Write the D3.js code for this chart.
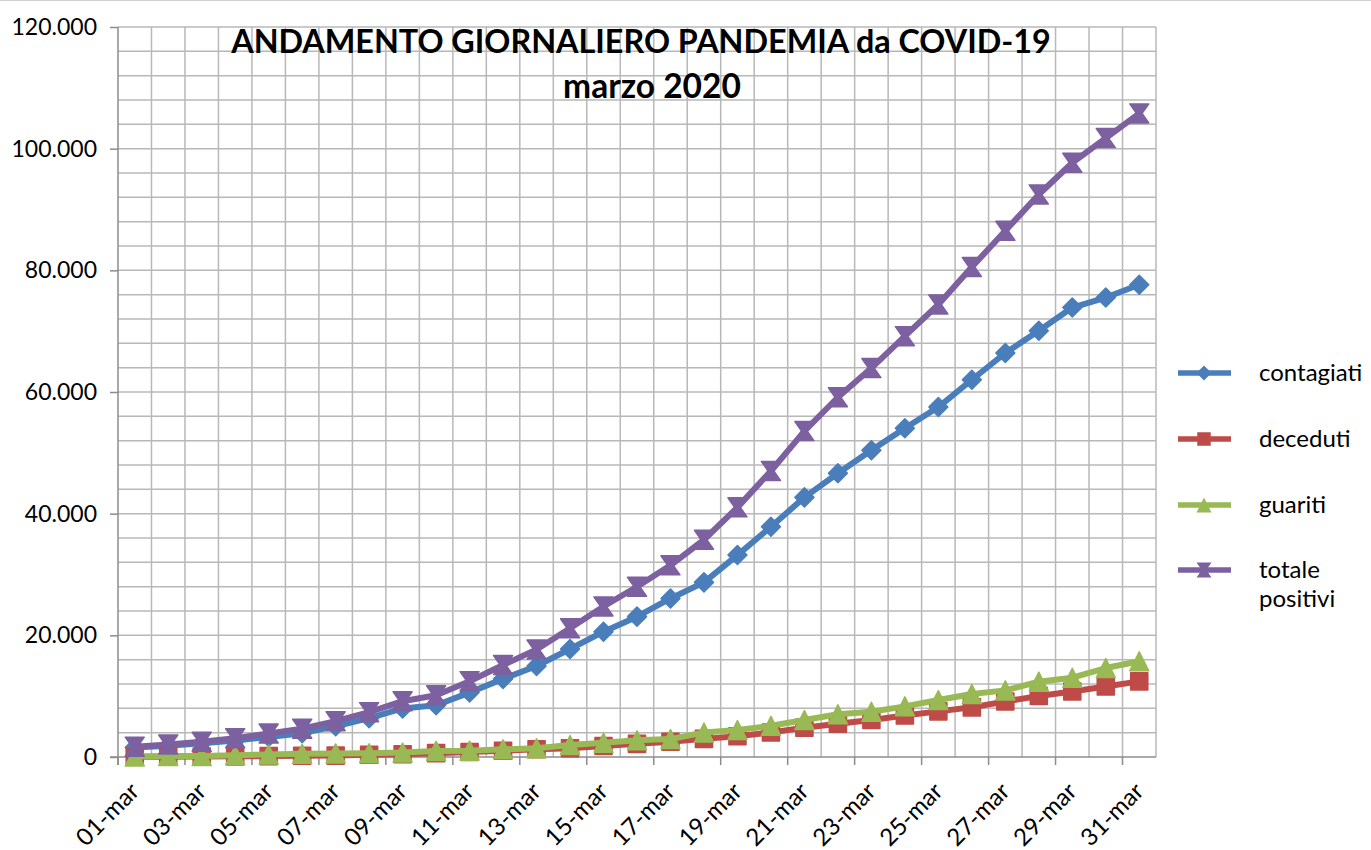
<!DOCTYPE html>
<html>
<head>
<meta charset="utf-8">
<script src="https://cdn.jsdelivr.net/npm/d3@7"></script>
<style>
  body { margin: 0; background: #fff; }
  svg { display: block; font-family: Lato, "Open Sans", sans-serif; }
</style>
</head>
<body>
<svg width="1371" height="850"></svg>
<script>
// giorni di marzo 2020
var giorni = d3.range(1, 32).map(function(d){ return (d < 10 ? '0' : '') + d + '-mar'; });

var contagiati = [1577,1835,2263,2706,3296,3916,5061,6387,7985,8514,10590,12839,14955,17750,20603,
  23073,26062,28710,33190,37860,42681,46638,50418,54030,57521,62013,66414,70065,73880,75528,77635];
var deceduti = [34,52,79,107,148,197,233,366,463,631,827,1016,1266,1441,1809,2158,2503,2978,3405,
  4032,4825,5476,6077,6820,7503,8165,9134,10023,10779,11591,12428];
var guariti = [83,149,160,276,414,523,589,622,724,1004,1045,1258,1439,1966,2335,2749,2941,4025,4440,
  5129,6072,7024,7432,8326,9362,10361,10950,12384,13030,14620,15729];
var totalePositivi = [1694,2036,2502,3089,3858,4636,5883,7375,9172,10149,12462,15113,17660,21157,24747,
  27980,31506,35713,41035,47021,53578,59138,63927,69176,74386,80539,86498,92472,97689,101739,105792];

var yTicks = [0, 20000, 40000, 60000, 80000, 100000, 120000];
var etichetteX = giorni.filter(function(d, i){ return i % 2 === 0; });

var serie = [
  { nome: 'contagiati', valori: contagiati, colore: '#4a7ebb', marker: 'diamond' },
  { nome: 'deceduti', valori: deceduti, colore: '#be4b48', marker: 'square' },
  { nome: 'guariti', valori: guariti, colore: '#98b954', marker: 'triangle' },
  { nome: 'totale positivi', valori: totalePositivi, colore: '#7d60a0', marker: 'hourglass' }
];

var pLeft = 118, pRight = 1156, pTop = 27, pBottom = 757;

var x = d3.scaleBand().domain(giorni).range([pLeft, pRight]).padding(0);
var y = d3.scaleLinear().domain([0, 120000]).range([pBottom, pTop]);
var bw = x.bandwidth();
var fmt = d3.formatLocale({ decimal: ',', thousands: '.', grouping: [3], currency: ['', '€'] }).format(',');

var svg = d3.select('svg');

// linea sottile in alto
svg.append('line').attr('x1', 0).attr('x2', 1371).attr('y1', 0.5).attr('y2', 0.5)
  .attr('stroke', '#d0d0d0').attr('stroke-width', 1);

// griglia orizzontale
svg.append('g').selectAll('line')
  .data(d3.range(4000, 120001, 4000))
  .enter().append('line')
  .attr('x1', pLeft).attr('x2', pRight)
  .attr('y1', function(d){ return y(d); }).attr('y2', function(d){ return y(d); })
  .attr('stroke', '#b8b8b8').attr('stroke-width', 1.5);

// griglia verticale (confini delle categorie)
var confini = d3.range(0, giorni.length + 1).map(function(i){ return pLeft + i * bw; });
svg.append('g').selectAll('line')
  .data(confini.slice(1))
  .enter().append('line')
  .attr('x1', function(d){ return d; }).attr('x2', function(d){ return d; })
  .attr('y1', pTop).attr('y2', pBottom)
  .attr('stroke', '#b8b8b8').attr('stroke-width', 1.5);

// asse y
var yAxis = d3.axisLeft(y).tickValues(yTicks).tickFormat(fmt).tickSize(8).tickPadding(13);
var gy = svg.append('g').attr('transform', 'translate(' + pLeft + ',0)').call(yAxis);
gy.select('.domain').attr('stroke', '#8c8c8c').attr('stroke-width', 1.5).attr('d', 'M0,' + pTop + 'V' + (pBottom + 8));
gy.selectAll('.tick line').attr('stroke', '#8c8c8c').attr('stroke-width', 1.5);
gy.selectAll('.tick text').attr('font-size', 23).attr('fill', '#000').attr('font-family', 'Lato');

// asse x
svg.append('line').attr('x1', pLeft - 8).attr('x2', pRight).attr('y1', pBottom).attr('y2', pBottom)
  .attr('stroke', '#8c8c8c').attr('stroke-width', 1.5);
svg.append('g').selectAll('line')
  .data(confini.filter(function(d, i){ return i % 2 === 0; }))
  .enter().append('line')
  .attr('x1', function(d){ return d; }).attr('x2', function(d){ return d; })
  .attr('y1', pBottom).attr('y2', pBottom + 8)
  .attr('stroke', '#8c8c8c').attr('stroke-width', 1.5);

svg.append('g').selectAll('text')
  .data(etichetteX)
  .enter().append('text')
  .attr('transform', function(d){ return 'translate(' + (x(d) + bw / 2 - 6) + ',' + (pBottom + 24) + ') rotate(-45)'; })
  .attr('text-anchor', 'end')
  .attr('dy', '0.7em')
  .attr('font-size', 24)
  .text(function(d){ return d; });

// simboli
function simbolo(tipo, s) {
  var h = s / 2;
  if (tipo === 'diamond') return 'M0,' + (-h) + 'L' + h + ',0L0,' + h + 'L' + (-h) + ',0Z';
  if (tipo === 'square') return 'M' + (-h * 0.9) + ',' + (-h * 0.9) + 'h' + (s * 0.9) + 'v' + (s * 0.9) + 'h' + (-s * 0.9) + 'Z';
  if (tipo === 'triangle') return 'M0,' + (-h) + 'L' + h + ',' + h + 'L' + (-h) + ',' + h + 'Z';
  return 'M' + (-h) + ',' + (-h) + 'L' + h + ',' + (-h) + 'L' + (h * 0.3) + ',0L' + h + ',' + h +
    'L' + (-h) + ',' + h + 'L' + (-h * 0.3) + ',0Z';
}

var linea = d3.line()
  .x(function(d, i){ return x(giorni[i]) + bw / 2; })
  .y(function(d){ return y(d); });

serie.forEach(function(s){
  var g = svg.append('g');
  g.append('path').datum(s.valori)
    .attr('d', linea)
    .attr('fill', 'none').attr('stroke', s.colore).attr('stroke-width', 6)
    .attr('stroke-linejoin', 'round');
  g.selectAll('.m').data(s.valori).enter().append('path')
    .attr('transform', function(d, i){ return 'translate(' + (x(giorni[i]) + bw / 2) + ',' + y(d) + ')'; })
    .attr('d', simbolo(s.marker, 19))
    .attr('fill', s.colore).attr('stroke', s.colore).attr('stroke-width', 1.5)
    .attr('stroke-linejoin', 'round');
});

// titolo
var titolo = svg.append('text').attr('text-anchor', 'middle').attr('font-weight', 'bold').attr('font-size', 32.3);
titolo.append('tspan').attr('x', 641).attr('y', 53).text('ANDAMENTO GIORNALIERO PANDEMIA da COVID-19');
titolo.append('tspan').attr('x', 652).attr('y', 98).attr('font-size', 33.5).text('marzo 2020');

// legenda
var legendaY = [373, 439, 505, 570];
var leg = svg.append('g').selectAll('g').data(serie).enter().append('g')
  .attr('transform', function(d, i){ return 'translate(0,' + legendaY[i] + ')'; });
leg.append('line').attr('x1', 1178).attr('x2', 1231).attr('y1', 0).attr('y2', 0)
  .attr('stroke', function(d){ return d.colore; }).attr('stroke-width', 5.5);
leg.append('path').attr('transform', 'translate(1204,0)')
  .attr('d', function(d){ return simbolo(d.marker, 15); })
  .attr('fill', function(d){ return d.colore; });
leg.append('text').attr('x', 1259).attr('font-size', 24)
  .each(function(d){
    var t = d3.select(this);
    d.nome.split(' ').forEach(function(w, j){
      t.append('tspan').attr('x', 1259).attr('y', 8 + j * 29).text(w);
    });
  });
</script>
</body>
</html>
